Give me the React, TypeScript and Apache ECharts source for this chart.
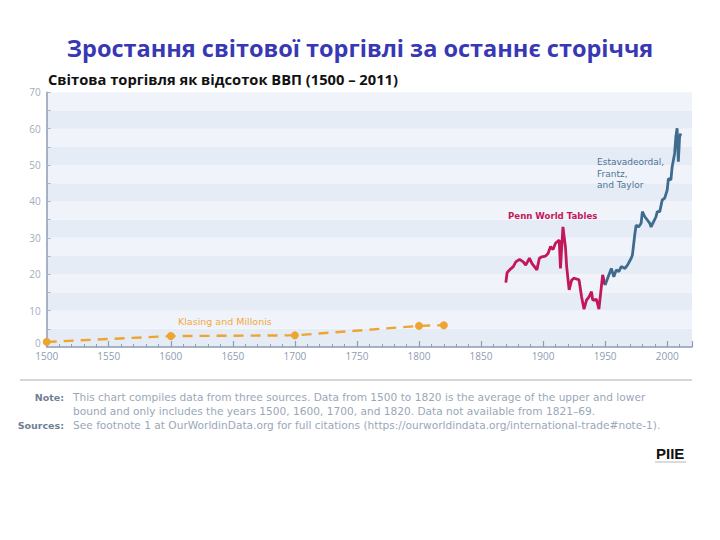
import React, { useEffect, useRef } from "react";
import * as echarts from "echarts";

const klasingYears = [1500, 1600, 1700, 1800, 1820];
const klasingValues = [1.4, 3.0, 3.2, 5.8, 6.0];

const pennYears = [1870, 1871, 1873, 1876, 1878, 1881, 1884, 1886, 1889, 1891, 1893, 1895, 1897, 1899, 1902, 1904, 1906, 1908, 1910, 1913, 1914, 1916, 1918, 1919, 1921, 1923, 1925, 1928, 1929, 1931, 1933, 1935, 1937, 1939, 1940, 1943, 1945, 1948, 1950];
const pennValues = [17.7, 20.4, 21.2, 22.1, 23.4, 24.1, 23.4, 22.5, 24.4, 23.0, 22.1, 21.2, 24.4, 24.8, 25.0, 25.7, 27.6, 26.8, 28.5, 29.4, 21.6, 33.0, 27.6, 22.1, 15.7, 18.4, 18.9, 18.6, 18.4, 13.8, 10.4, 12.9, 13.8, 15.2, 12.9, 13.1, 10.4, 19.8, 17.0];

const eftYears = [1950, 1953, 1955, 1957, 1959, 1961, 1963, 1966, 1968, 1971, 1972, 1974, 1975, 1977, 1979, 1980, 1982, 1984, 1986, 1987, 1989, 1991, 1992, 1994, 1996, 1998, 2000, 2001, 2003, 2004, 2006, 2007, 2008, 2009, 2010, 2011];
const eftValues = [17.0, 19.8, 21.6, 19.3, 21.2, 20.7, 22.1, 21.6, 22.5, 24.4, 25.3, 31.2, 33.5, 33.0, 34.0, 37.2, 35.8, 34.9, 34.0, 33.0, 34.4, 35.8, 37.2, 37.2, 40.4, 40.9, 43.1, 46.3, 45.9, 49.5, 53.2, 57.8, 60.1, 50.9, 57.8, 58.7];

const titleText = "Зростання світової торгівлі за останнє сторіччя";
const subtitleText = "Світова торгівля як відсоток ВВП (1500 – 2011)";
const noteLines = [
  "This chart compiles data from three sources. Data from 1500 to 1820 is the average of the upper and lower",
  "bound and only includes the years 1500, 1600, 1700, and 1820. Data not available from 1821–69.",
];
const sourceLine = "See footnote 1 at OurWorldinData.org for full citations (https://ourworldindata.org/international-trade#note-1).";

const pair = (xs: number[], ys: number[]) => xs.map((x, i) => [x, ys[i]]);

const FONT = "'Open Sans', sans-serif";
const WIDE = "'DejaVu Sans', sans-serif";

export default function App() {
  const ref = useRef<HTMLDivElement>(null);
  useEffect(() => {
    const chart = echarts.init(ref.current!, null, { renderer: "svg" });
    const axisColor = "#8c9db3";
    chart.setOption({
      animation: false,
      backgroundColor: "#ffffff",
      textStyle: { fontFamily: FONT },
      grid: { left: 46.7, right: 28, top: 92.3, bottom: 193 },
      xAxis: {
        type: "value",
        min: 1500,
        max: 2020,
        interval: 50,
        axisLine: { show: true, lineStyle: { color: axisColor, width: 1.5 } },
        axisTick: { show: true, inside: true, length: 6, lineStyle: { color: axisColor, width: 1.2 } },
        minorTick: { show: true, splitNumber: 5, length: 3, lineStyle: { color: axisColor, width: 1 } },
        splitLine: { show: false },
        axisLabel: {
          color: "#8e9db1",
          fontSize: 10,
          margin: 4,
          showMaxLabel: false,
          formatter: (v: number) => (v % 50 === 0 ? String(v) : ""),
          fontFamily: FONT,
        },
      },
      yAxis: {
        type: "value",
        min: 0,
        max: 70,
        interval: 5,
        axisLine: { show: true, lineStyle: { color: axisColor, width: 1.5 } },
        axisTick: { show: true, inside: true, length: 4, lineStyle: { color: "#a9b6c6", width: 1 } },
        splitLine: { show: false },
        splitArea: { show: true, areaStyle: { color: ["#e6ecf6", "#f0f4fa"] } },
        axisLabel: {
          color: "#a2adbb",
          fontSize: 10,
          margin: 6,
          formatter: (v: number) => (v === 0 ? "{z|0}" : v % 10 === 0 ? String(v) : ""),
          rich: { z: { color: "#a2adbb", fontSize: 10, padding: [0, 0, 9, 0], fontFamily: FONT } },
          fontFamily: FONT,
        },
      },
      series: [
        {
          name: "Klasing and Millonis",
          type: "line",
          data: pair(klasingYears, klasingValues),
          symbol: "circle",
          symbolSize: 8,
          itemStyle: { color: "#eea430" },
          lineStyle: { color: "#eea430", width: 2.4, type: [10, 7] },
          z: 3,
        },
        {
          name: "Penn World Tables",
          type: "line",
          data: pair(pennYears, pennValues),
          symbol: "none",
          lineStyle: { color: "#c2185b", width: 2.8 },
          z: 3,
        },
        {
          name: "Estavadeordal, Frantz, and Taylor",
          type: "line",
          data: pair(eftYears, eftValues),
          symbol: "none",
          lineStyle: { color: "#3f6b8f", width: 2.8 },
          z: 4,
        },
      ],
      graphic: [
        {
          type: "text",
          x: 360,
          y: 48,
          z: 100,
          style: { text: titleText, fill: "#3838b4", font: `bold 23.5px ${FONT}`, align: "center", verticalAlign: "middle" },
        },
        {
          type: "text",
          x: 48,
          y: 79,
          z: 100,
          style: { text: subtitleText, fill: "#111111", font: `bold 14.7px ${FONT}`, verticalAlign: "middle" },
        },
        {
          type: "text",
          x: 178,
          y: 321,
          z: 100,
          style: { text: "Klasing and Millonis", fill: "#f0a93a", font: `9.5px ${WIDE}`, verticalAlign: "middle" },
        },
        {
          type: "text",
          x: 508,
          y: 216,
          z: 100,
          style: { text: "Penn World Tables", fill: "#c2185b", font: `bold 8.6px ${WIDE}`, verticalAlign: "middle" },
        },
        {
          type: "text",
          x: 597,
          y: 162,
          z: 100,
          style: { text: "Estavadeordal,", fill: "#4d7596", font: `9px ${WIDE}`, verticalAlign: "middle" },
        },
        {
          type: "text",
          x: 597,
          y: 173.5,
          z: 100,
          style: { text: "Frantz,", fill: "#4d7596", font: `9px ${WIDE}`, verticalAlign: "middle" },
        },
        {
          type: "text",
          x: 597,
          y: 185,
          z: 100,
          style: { text: "and Taylor", fill: "#4d7596", font: `9px ${WIDE}`, verticalAlign: "middle" },
        },
        {
          type: "line",
          z: 100,
          shape: { x1: 20, y1: 380, x2: 692, y2: 380 },
          style: { stroke: "#d3d7dc", lineWidth: 2 },
        },
        {
          type: "text",
          x: 64,
          y: 397,
          z: 100,
          style: { text: "Note:", fill: "#6f7f95", font: `bold 9.5px ${WIDE}`, align: "right", verticalAlign: "middle" },
        },
        {
          type: "text",
          x: 64,
          y: 425,
          z: 100,
          style: { text: "Sources:", fill: "#6f7f95", font: `bold 9.5px ${WIDE}`, align: "right", verticalAlign: "middle" },
        },
        {
          type: "text",
          x: 73,
          y: 397,
          z: 100,
          style: { text: noteLines[0], fill: "#9aa7b8", font: `10.6px ${WIDE}`, verticalAlign: "middle" },
        },
        {
          type: "text",
          x: 73,
          y: 411,
          z: 100,
          style: { text: noteLines[1], fill: "#9aa7b8", font: `10.6px ${WIDE}`, verticalAlign: "middle" },
        },
        {
          type: "text",
          x: 73,
          y: 425,
          z: 100,
          style: { text: sourceLine, fill: "#9aa7b8", font: `10.6px ${WIDE}`, verticalAlign: "middle" },
        },
        {
          type: "text",
          x: 656,
          y: 453,
          z: 100,
          style: { text: "PIIE", fill: "#111111", font: `bold 15px 'Liberation Sans', sans-serif`, verticalAlign: "middle" },
        },
        {
          type: "line",
          z: 100,
          shape: { x1: 655, y1: 462, x2: 686, y2: 462 },
          style: { stroke: "#cfcfcf", lineWidth: 1.5 },
        },
      ],
    });
    return () => chart.dispose();
  }, []);
  return (
    <div
      ref={ref}
      style={{ position: "fixed", left: 0, top: 0, width: 720, height: 540, background: "#fff" }}
    />
  );
}
